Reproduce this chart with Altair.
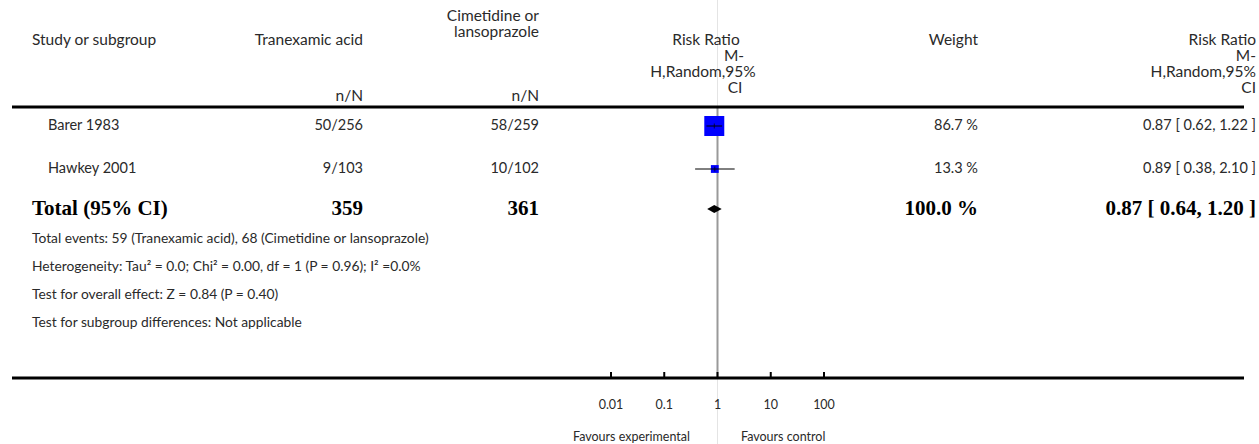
import altair as alt
import pandas as pd

# ---------------- data ----------------
studies = ["Barer 1983", "Hawkey 2001"]
tx_events = ["50/256", "9/103"]
ctl_events = ["58/259", "10/102"]
weights = [86.7, 13.3]
rr = [0.87, 0.89]
rr_lo = [0.62, 0.38]
rr_hi = [1.22, 2.10]
study_rows = [1, 2]

total_label = "Total (95% CI)"
total_tx = "359"
total_ctl = "361"
total_weight = 100.0
total_rr = 0.87
total_lo = 0.64
total_hi = 1.20
total_row = 3

tick_values = [0.01, 0.1, 1, 10, 100]
tick_labels = ["0.01", "0.1", "1", "10", "100"]

footnotes = [
    "Total events: 59 (Tranexamic acid), 68 (Cimetidine or lansoprazole)",
    "Heterogeneity: Tau\u00b2 = 0.0; Chi\u00b2 = 0.00, df = 1 (P = 0.96); I\u00b2 =0.0%",
    "Test for overall effect: Z = 0.84 (P = 0.40)",
    "Test for subgroup differences: Not applicable",
]

# ---------------- style ----------------
FONT = "Lato"
SERIF = "Liberation Serif"
TXT = "#2a2a2a"
FS = 14.5      # table rows
HFS = 15.5     # header
NFS = 13.8     # footnotes
BFS = 21       # bold total row
W, H = 1259, 444

xscale = alt.Scale(type="log", domain=[0.01, 100], range=[611, 824])
yscale = alt.Scale(type="linear", domain=[1, 2, 3], range=[126, 169, 209])

def label(text, x, y, align="left", size=HFS, font=FONT, weight="normal", color=TXT):
    return alt.Chart(pd.DataFrame({"t": [text]})).mark_text(
        align=align, baseline="middle", font=font, fontSize=size,
        fontWeight=weight, color=color
    ).encode(x=alt.value(x), y=alt.value(y), text="t:N")

layers = []

# light full-height line of no effect
layers.append(alt.Chart(pd.DataFrame({"v": [1]})).mark_rule(color="#e4e4e4", strokeWidth=1).encode(
    x=alt.X("v:Q", scale=xscale, axis=None), y=alt.value(0), y2=alt.value(H)))
# darker line inside plot
layers.append(alt.Chart(pd.DataFrame({"v": [1]})).mark_rule(color="#999999", strokeWidth=2).encode(
    x=alt.X("v:Q", scale=xscale, axis=None), y=alt.value(107), y2=alt.value(378)))

# header
layers += [
    label("Study or subgroup", 32, 40),
    label("Tranexamic acid", 363, 40, "right"),
    label("Cimetidine or", 539, 16, "right"),
    label("lansoprazole", 539, 32, "right"),
    label("n/N", 363, 96, "right"),
    label("n/N", 539, 96, "right"),
    label("Risk Ratio", 706, 40, "center"),
    label("M-", 734, 56, "center"),
    label("H,Random,95%", 703, 72, "center"),
    label("CI", 735, 88, "center"),
    label("Weight", 978, 40, "right"),
    label("Risk Ratio", 1256, 40, "right"),
    label("M-", 1256, 56, "right"),
    label("H,Random,95%", 1256, 72, "right"),
    label("CI", 1256, 88, "right"),
]

# header rule and axis rule
layers.append(alt.Chart(pd.DataFrame({"a": [0]})).mark_rule(color="black", strokeWidth=3).encode(
    x=alt.value(12), x2=alt.value(1244), y=alt.value(107)))
layers.append(alt.Chart(pd.DataFrame({"a": [0]})).mark_rule(color="black", strokeWidth=3).encode(
    x=alt.value(12), x2=alt.value(1244), y=alt.value(378)))

# study rows
sdf = pd.DataFrame({
    "row": study_rows,
    "study": studies,
    "tx": tx_events,
    "ctl": ctl_events,
    "weight": weights,
    "wlabel": [f"{w:.1f} %" for w in weights],
    "rr": rr, "lo": rr_lo, "hi": rr_hi,
    "rrlabel": [f"{a:.2f} [ {b:.2f}, {c:.2f} ]" for a, b, c in zip(rr, rr_lo, rr_hi)],
})
base = alt.Chart(sdf)
Y = alt.Y("row:Q", scale=yscale, axis=None)
def col(field, x, align):
    return base.mark_text(align=align, baseline="middle", font=FONT, fontSize=FS, color=TXT).encode(
        x=alt.value(x), y=Y, text=f"{field}:N")
layers += [col("study", 48, "left"), col("tx", 363, "right"), col("ctl", 539, "right"),
           col("wlabel", 978, "right"), col("rrlabel", 1256, "right")]

layers.append(base.mark_square(color="#0000ff", opacity=1).encode(
    x=alt.X("rr:Q", scale=xscale, axis=None), y=Y,
    size=alt.Size("weight:Q", scale=alt.Scale(domain=[0, 100], range=[0, 461]), legend=None)))
layers.append(base.mark_rule(color="black", strokeWidth=1).encode(
    x=alt.X("lo:Q", scale=xscale, axis=None), x2="hi:Q", y=Y))
layers.append(base.mark_tick(color="black", orient="vertical", size=5, thickness=1).encode(
    x=alt.X("rr:Q", scale=xscale, axis=None), y=Y))

# total row
tdf = pd.DataFrame({
    "row": [total_row], "study": [total_label], "tx": [total_tx], "ctl": [total_ctl],
    "wlabel": [f"{total_weight:.1f} %"],
    "rrlabel": [f"{total_rr:.2f} [ {total_lo:.2f}, {total_hi:.2f} ]"],
})
tbase = alt.Chart(tdf)
def tcol(field, x, align):
    return tbase.mark_text(align=align, baseline="middle", font=SERIF, fontSize=BFS,
                           fontWeight="bold", color="black").encode(
        x=alt.value(x), y=Y, text=f"{field}:N")
layers += [tcol("study", 32, "left"), tcol("tx", 363, "right"), tcol("ctl", 539, "right"),
           tcol("wlabel", 978, "right"), tcol("rrlabel", 1256, "right")]

DH = 0.1  # diamond half height in row units
ddf = pd.DataFrame({"x": [total_lo, total_rr, total_hi]})
ddf["ytop"] = [total_row, total_row - DH, total_row]
ddf["ybot"] = [total_row, total_row + DH, total_row]
layers.append(alt.Chart(ddf).mark_area(color="black", orient="vertical").encode(
    x=alt.X("x:Q", scale=xscale, axis=None),
    y=alt.Y("ytop:Q", scale=yscale, axis=None), y2="ybot:Q"))

# footnotes
for t, yy in zip(footnotes, [239, 267, 295, 323]):
    layers.append(label(t, 32, yy, size=NFS))

# axis ticks and labels
kdf = pd.DataFrame({"v": tick_values, "l": tick_labels})
layers.append(alt.Chart(kdf).mark_rule(color="black", strokeWidth=2).encode(
    x=alt.X("v:Q", scale=xscale, axis=None), y=alt.value(372), y2=alt.value(378)))
layers.append(alt.Chart(kdf).mark_text(align="center", baseline="middle", font=FONT,
                                       fontSize=12.5, color=TXT).encode(
    x=alt.X("v:Q", scale=xscale, axis=None), y=alt.value(405), text="l:N"))

layers += [
    label("Favours experimental", 690, 437, "right", size=12.5),
    label("Favours control", 741, 437, "left", size=12.5),
]

chart = alt.layer(*layers).properties(
    width=W, height=H, padding=0, autosize=alt.AutoSizeParams(type="none")
).configure_view(stroke=None)

chart.save("out.html", embed_options={"renderer": "svg", "actions": False})
